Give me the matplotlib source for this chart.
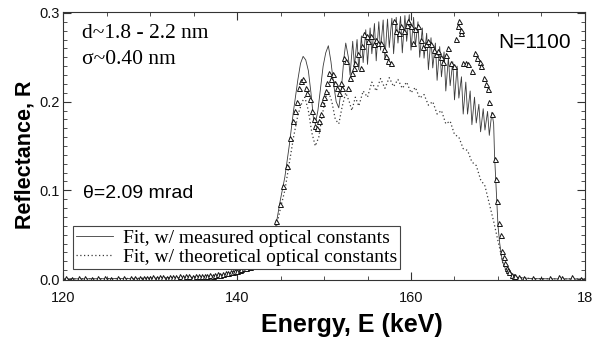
import matplotlib
matplotlib.use("Agg")
import matplotlib.pyplot as plt
from matplotlib.ticker import MultipleLocator, FixedLocator

# ---------------- data ----------------
meas_E = [120.3, 121.0, 121.8, 122.5, 123.3, 124.0, 124.8, 125.5, 126.3, 127.0,
          127.8, 128.3, 128.8, 129.3, 129.7, 130.0, 130.4, 130.8, 131.2, 131.5,
          131.9, 132.3, 132.6, 133.0, 133.4, 133.8, 134.1, 134.5, 134.9, 135.3,
          135.6, 136.0, 136.3, 136.6, 136.9, 137.2, 137.5, 137.8, 138.1, 138.4,
          138.7, 139.0, 139.3, 139.5, 139.8, 140.0, 140.3, 140.5, 140.8,
          141.0, 141.5, 142.0, 142.5, 143.0, 143.6, 144.1, 144.5, 144.9, 145.3,
          145.7, 146.1, 146.4, 146.7, 146.9, 147.1, 147.3, 147.6, 147.9, 148.1,
          148.4, 148.6, 148.8, 149.0, 149.2, 149.4, 149.6, 149.8, 150.0, 150.2,
          150.4, 150.6, 150.8, 151.0, 151.3, 151.5, 151.7, 151.9, 152.1, 152.3,
          152.5, 152.8, 153.0, 153.2, 153.4, 153.6, 153.9, 154.2, 154.4, 154.6,
          154.9, 155.1, 155.4, 155.7, 156.0, 156.2, 156.5, 156.9, 157.1, 157.3,
          157.7, 158.0, 158.3, 158.6, 158.9, 159.2, 159.5, 159.7, 160.0, 160.2,
          160.5, 160.8, 161.1, 161.4, 161.7, 162.0, 162.3, 162.6, 162.9, 163.1,
          163.4, 163.7, 164.0, 164.3, 164.6, 164.9, 165.2, 165.4, 165.5, 165.7,
          165.8, 166.0, 166.3, 166.6, 167.0, 167.3, 167.6, 167.9, 168.1, 168.4,
          168.6, 168.8, 169.0, 169.3, 169.6, 169.8, 169.9, 170.1, 170.3, 170.5,
          170.7, 170.8, 171.0, 171.2, 171.3, 171.6, 171.8, 172.0, 172.4, 173.0,
          174.0, 175.0, 176.0, 177.0, 177.3, 178.5, 179.5]
meas_R = [0.001, 0.000, 0.001, 0.001, 0.000, 0.001, 0.001, 0.000, 0.001, 0.001,
          0.001, 0.001, 0.001, 0.001, 0.001, 0.001, 0.002, 0.001, 0.002, 0.002,
          0.001, 0.002, 0.002, 0.002, 0.003, 0.002, 0.003, 0.003, 0.002, 0.003,
          0.004, 0.003, 0.004, 0.004, 0.005, 0.004, 0.005, 0.006, 0.005, 0.006,
          0.007, 0.007, 0.008, 0.008, 0.009, 0.009, 0.010, 0.011, 0.012,
          0.013, 0.014, 0.016, 0.018, 0.024, 0.035, 0.050, 0.065, 0.085, 0.105,
          0.128, 0.159, 0.178, 0.190, 0.200, 0.215, 0.223, 0.226, 0.215, 0.210,
          0.203, 0.190, 0.180, 0.172, 0.170, 0.178, 0.186, 0.198, 0.205, 0.212,
          0.221, 0.232, 0.226, 0.231, 0.221, 0.215, 0.210, 0.221, 0.215, 0.249,
          0.246, 0.215, 0.227, 0.232, 0.238, 0.244, 0.254, 0.238, 0.263, 0.276,
          0.274, 0.268, 0.274, 0.265, 0.270, 0.266, 0.266, 0.259, 0.251, 0.246,
          0.244, 0.291, 0.280, 0.277, 0.285, 0.280, 0.286, 0.291, 0.285, 0.266,
          0.282, 0.285, 0.270, 0.262, 0.265, 0.268, 0.265, 0.258, 0.254, 0.257,
          0.250, 0.245, 0.253, 0.260, 0.244, 0.240, 0.271, 0.285, 0.291, 0.277,
          0.281, 0.243, 0.243, 0.242, 0.234, 0.255, 0.249, 0.245, 0.240, 0.227,
          0.220, 0.214, 0.200, 0.186, 0.135, 0.113, 0.088, 0.063, 0.050, 0.032,
          0.025, 0.018, 0.012, 0.010, 0.008, 0.005, 0.004, 0.003, 0.002, 0.001,
          0.001, 0.000, 0.001, 0.002, 0.001, 0.002, 0.000]

fit_meas_E = [120.0, 125.0, 130.0, 135.0, 137.0, 138.0, 139.0, 140.0, 141.0, 142.0,
              143.0, 143.5, 144.0, 144.5, 145.0, 145.5, 146.0, 146.5, 147.0, 147.3,
              147.6, 147.9, 148.2, 148.5, 148.8, 149.0, 149.3, 149.6, 149.9, 150.2,
              150.5, 150.8, 151.1, 151.4, 151.7, 152.0, 152.3, 152.5, 152.8, 153.0,
              153.3, 153.5, 153.8, 154.0, 154.3, 154.5, 154.8, 155.0, 155.3, 155.5,
              155.8, 156.0, 156.3, 156.5, 156.8, 157.0, 157.3, 157.5, 157.8, 158.0,
              158.3, 158.5, 158.8, 159.0, 159.3, 159.5, 159.8, 160.0, 160.3, 160.5,
              160.8, 161.0, 161.3, 161.5, 161.8, 162.0, 162.3, 162.5, 162.8, 163.0,
              163.3, 163.5, 163.8, 164.0, 164.3, 164.5, 164.8, 165.0, 165.3, 165.5,
              165.8, 166.0, 166.3, 166.5, 166.8, 167.0, 167.3, 167.5, 167.8, 168.0,
              168.3, 168.5, 168.8, 169.0, 169.3, 169.5, 169.6, 169.8, 170.0, 170.2,
              170.5, 171.0, 172.0, 174.0, 177.0, 180.0]
fit_meas_R = [0.0003, 0.0005, 0.001, 0.002, 0.003, 0.004, 0.006, 0.008, 0.011, 0.016,
              0.026, 0.033, 0.045, 0.062, 0.090, 0.115, 0.150, 0.190, 0.225, 0.243,
              0.251, 0.247, 0.235, 0.210, 0.180, 0.175, 0.190, 0.215, 0.240, 0.255,
              0.263, 0.245, 0.220, 0.200, 0.193, 0.215, 0.250, 0.266, 0.250, 0.230,
              0.268, 0.240, 0.270, 0.236, 0.274, 0.244, 0.281, 0.242, 0.283, 0.254,
              0.288, 0.246, 0.290, 0.258, 0.292, 0.248, 0.293, 0.261, 0.294, 0.254,
              0.295, 0.266, 0.296, 0.255, 0.297, 0.268, 0.298, 0.258, 0.295, 0.262,
              0.290, 0.250, 0.283, 0.249, 0.277, 0.236, 0.272, 0.238, 0.266, 0.224,
              0.262, 0.228, 0.256, 0.212, 0.250, 0.218, 0.245, 0.202, 0.240, 0.204,
              0.228, 0.186, 0.222, 0.186, 0.212, 0.174, 0.205, 0.176, 0.197, 0.166,
              0.192, 0.168, 0.189, 0.162, 0.188, 0.175, 0.140, 0.100, 0.060, 0.040,
              0.020, 0.008, 0.002, 0.0005, 0.0003, 0.0002]

fit_theo_E = [120.0, 125.0, 130.0, 135.0, 137.0, 138.0, 139.0, 140.0, 141.0, 142.0,
              143.0, 144.0, 144.5, 145.0, 145.5, 146.0, 146.5, 147.0, 147.5, 147.8,
              148.2, 148.6, 149.0, 149.4, 149.8, 150.2, 150.5, 150.9, 151.3, 151.7,
              152.1, 152.5, 152.9, 153.2, 153.6, 154.0, 154.5, 155.0, 155.5, 156.0,
              156.5, 157.0, 157.5, 158.0, 158.5, 159.0, 159.5, 160.0, 160.5, 161.0,
              161.5, 162.0, 162.5, 163.0, 163.5, 164.0, 164.5, 165.0, 165.5, 166.0,
              166.5, 167.0, 167.5, 168.0, 168.5, 169.0, 169.5, 170.0, 170.3, 170.6,
              171.0, 172.0, 174.0, 177.0, 180.0]
fit_theo_R = [0.0003, 0.0005, 0.001, 0.002, 0.003, 0.004, 0.005, 0.007, 0.010, 0.015,
              0.024, 0.042, 0.058, 0.080, 0.100, 0.130, 0.160, 0.185, 0.200, 0.205,
              0.190, 0.165, 0.150, 0.160, 0.185, 0.205, 0.212, 0.200, 0.180, 0.175,
              0.195, 0.210, 0.200, 0.190, 0.205, 0.195, 0.212, 0.205, 0.222, 0.212,
              0.226, 0.215, 0.227, 0.217, 0.225, 0.215, 0.222, 0.210, 0.216, 0.204,
              0.208, 0.196, 0.200, 0.186, 0.190, 0.175, 0.178, 0.163, 0.160, 0.147,
              0.145, 0.132, 0.128, 0.112, 0.105, 0.085, 0.065, 0.043, 0.030, 0.016,
              0.008, 0.002, 0.0005, 0.0003, 0.0002]

x_ticks = [120, 140, 160, 180]
x_ticklabels = ["120", "140", "160", "18"]   # last label is cut off in the reference
y_ticks = [0.0, 0.1, 0.2, 0.3]
y_ticklabels = ["0.0", "0.1", "0.2", "0.3"]

legend_labels = ["Fit, w/ measured optical constants",
                 "Fit, w/ theoretical optical constants"]

# ---------------- figure ----------------
SANS = ["Liberation Sans", "DejaVu Sans"]
SERIF = ["Liberation Serif", "DejaVu Serif"]
plt.rcParams["font.family"] = SANS

W, H = 594, 344
fig = plt.figure(figsize=(W / 100, H / 100), dpi=100)
ax = fig.add_axes([63 / W, 1 - 280 / H, (585 - 63) / W, (280 - 12) / H])


def px(x, y):
    return (x / W, 1 - y / H)


l1, = ax.plot(fit_meas_E, fit_meas_R, color="#3a3a3a", lw=0.6, ls="-",
              label=legend_labels[0])
l2, = ax.plot(fit_theo_E, fit_theo_R, color="#3a3a3a", lw=0.9, ls=(0, (1, 2)),
              label=legend_labels[1])
ax.plot(meas_E, meas_R, ls="none", marker="^", ms=3.6, mfc="white",
        mec="#111111", mew=0.7)

ax.set_xlim(120, 180)
ax.set_ylim(-0.001, 0.301)

ax.xaxis.set_major_locator(FixedLocator(x_ticks))
ax.set_xticklabels(x_ticklabels)
ax.xaxis.set_minor_locator(MultipleLocator(5))
ax.yaxis.set_major_locator(FixedLocator(y_ticks))
ax.set_yticklabels(y_ticklabels)
ax.yaxis.set_minor_locator(MultipleLocator(0.01))

ax.tick_params(which="both", direction="in", top=True, right=True,
               colors="#333333", labelcolor="#111111")
ax.tick_params(which="major", length=6, width=0.8, labelsize=10.5)
ax.tick_params(which="minor", length=3, width=0.6)
ax.tick_params(axis="x", which="major", pad=8)
ax.tick_params(axis="y", which="major", pad=2)

for s in ax.spines.values():
    s.set_linewidth(0.8)
    s.set_color("#333333")

fig.text(*px(352, 325), "Energy, E (keV)", fontsize=18, fontweight="bold",
         ha="center", va="center")
fig.text(*px(25, 155), "Reflectance, R", fontsize=15.5, fontweight="bold",
         ha="center", va="center", rotation=90)

fig.text(*px(82, 33), "d~1.8 - 2.2 nm", fontsize=15.5, family=SERIF,
         va="center", ha="left")
fig.text(*px(82, 60), "σ~0.40 nm", fontsize=15.5, family=SERIF,
         va="center", ha="left")
fig.text(*px(83, 193), "θ=2.09 mrad", fontsize=14, va="center", ha="left")
fig.text(*px(498, 43), "N=1100", fontsize=15, va="center", ha="left")

leg = ax.legend(handles=[l1, l2], loc="lower left",
                bbox_to_anchor=(0.019, 0.041), borderaxespad=0,
                prop={"family": SERIF, "size": 14}, fancybox=False,
                edgecolor="#444444", framealpha=1, handlelength=1.9,
                handletextpad=0.5, borderpad=0.15, labelspacing=0.1)
leg.get_frame().set_linewidth(0.8)

fig.savefig("out.png", dpi=100)
